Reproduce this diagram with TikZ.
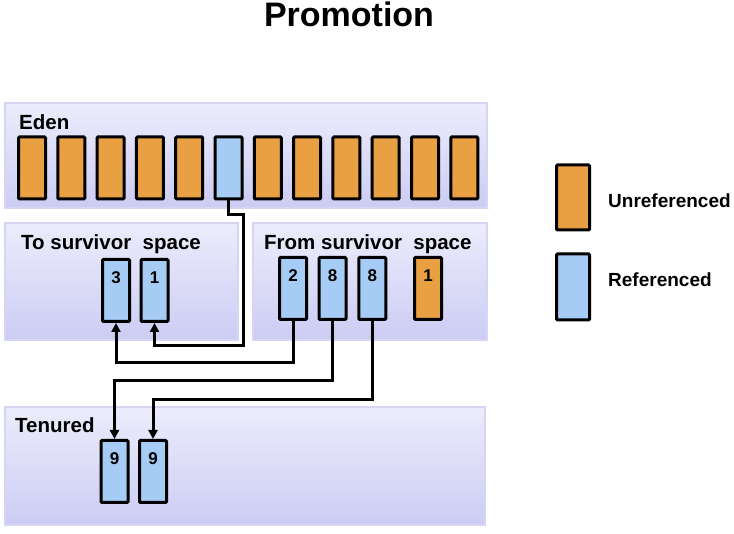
\documentclass[tikz,border=0pt]{standalone}
\usepackage{fontspec}
\setmainfont{Liberation Sans}
\usetikzlibrary{arrows.meta}
\definecolor{orng}{RGB}{232,160,66}
\definecolor{blu}{RGB}{166,204,245}
\definecolor{pantop}{RGB}{236,236,252}
\definecolor{panbot}{RGB}{204,204,244}
\definecolor{panedge}{RGB}{214,214,244}
\tikzset{
  panel/.style={draw=panedge,line width=1.5pt,top color=pantop,bottom color=panbot},
  cell/.style={draw=black,line width=3pt,rounded corners=1pt,minimum width=27pt,minimum height=62pt,inner sep=0pt},
  unref/.style={cell,fill=orng},
  refd/.style={cell,fill=blu},
  lbl/.style={font=\fontsize{20.5}{24}\bfseries\selectfont,anchor=base west,inner sep=0pt},
  legtxt/.style={font=\fontsize{19}{23}\bfseries\selectfont,anchor=base west,inner sep=0pt},
  num/.style={font=\fontsize{17}{20}\bfseries\selectfont,inner sep=0pt},
  conn/.style={draw=black,line width=3pt},
  arr/.style={conn,-{Triangle[width=9pt,length=9pt]}}
}
\begin{document}
\begin{tikzpicture}[x=1pt,y=-1pt]
\useasboundingbox[fill=white] (0,0) rectangle (734,534);
% title
\node[font=\fontsize{34}{40}\bfseries\selectfont,anchor=base,inner sep=0pt] (title) at (349,27) {Promotion};
% panels
\path[panel] (5,103) rectangle (487,208);
\path[panel] (5,223) rectangle (238,340);
\path[panel] (253,223) rectangle (487,340);
\path[panel] (5,407) rectangle (485,525);
% panel labels
\node[lbl] (edenlbl) at (19,130) {Eden};
\node[lbl] (tolbl) at (21,249.5) {To survivor\ \ space};
\node[lbl] (fromlbl) at (264,249.5) {From survivor\ \ space};
\node[lbl] (tenlbl) at (15,432.5) {Tenured};
% eden cells
\foreach \i in {0,...,11}{
  \ifnum\i=5
    \node[refd] (e\i) at ({32+39.3*\i},168) {};
  \else
    \node[unref] (e\i) at ({32+39.3*\i},168) {};
  \fi
}
% to survivor cells
\node[refd] (t3) at (116,290.5) {};
\node[refd] (t1) at (154.5,290.5) {};
\node[num] (t3n) at (116,277.5) {3};
\node[num] (t1n) at (154.5,277.5) {1};
% from survivor cells
\node[refd] (f2) at (293,288.5) {};
\node[refd] (f8a) at (332.5,288.5) {};
\node[refd] (f8b) at (372.3,288.5) {};
\node[unref] (f1) at (428,288.5) {};
\node[num] (f2n) at (293,275.5) {2};
\node[num] (f8an) at (332.5,275.5) {8};
\node[num] (f8bn) at (372.3,275.5) {8};
\node[num] (f1n) at (428,275.5) {1};
% tenured cells
\node[refd] (n9a) at (114.5,471.5) {};
\node[refd] (n9b) at (153,471.5) {};
\node[num] (n9an) at (114.5,458.5) {9};
\node[num] (n9bn) at (153,458.5) {9};
% legend
\node[unref,minimum width=33pt,minimum height=65pt] (lu) at (573,197.5) {};
\node[refd,minimum width=33pt,minimum height=66pt] (lr) at (573,287) {};
\node[legtxt] (lut) at (608,208) {Unreferenced};
\node[legtxt] (lrt) at (608,287) {Referenced};
% connectors
\coordinate (k1) at (243,215);
\coordinate (k2) at (243,345.5);
\coordinate (h2) at (0,363);
\coordinate (h3) at (0,381);
\coordinate (h4) at (0,400);
\draw[arr] (e5.south) |- (k1) -- (k2) -| (t1.south);
\draw[arr] (f2.south) -- (f2.south |- h2) -| (t3.south);
\draw[arr] (f8a.south) -- (f8a.south |- h3) -| (n9a.north);
\draw[arr] (f8b.south) -- (f8b.south |- h4) -| (n9b.north);
\end{tikzpicture}
\end{document}
